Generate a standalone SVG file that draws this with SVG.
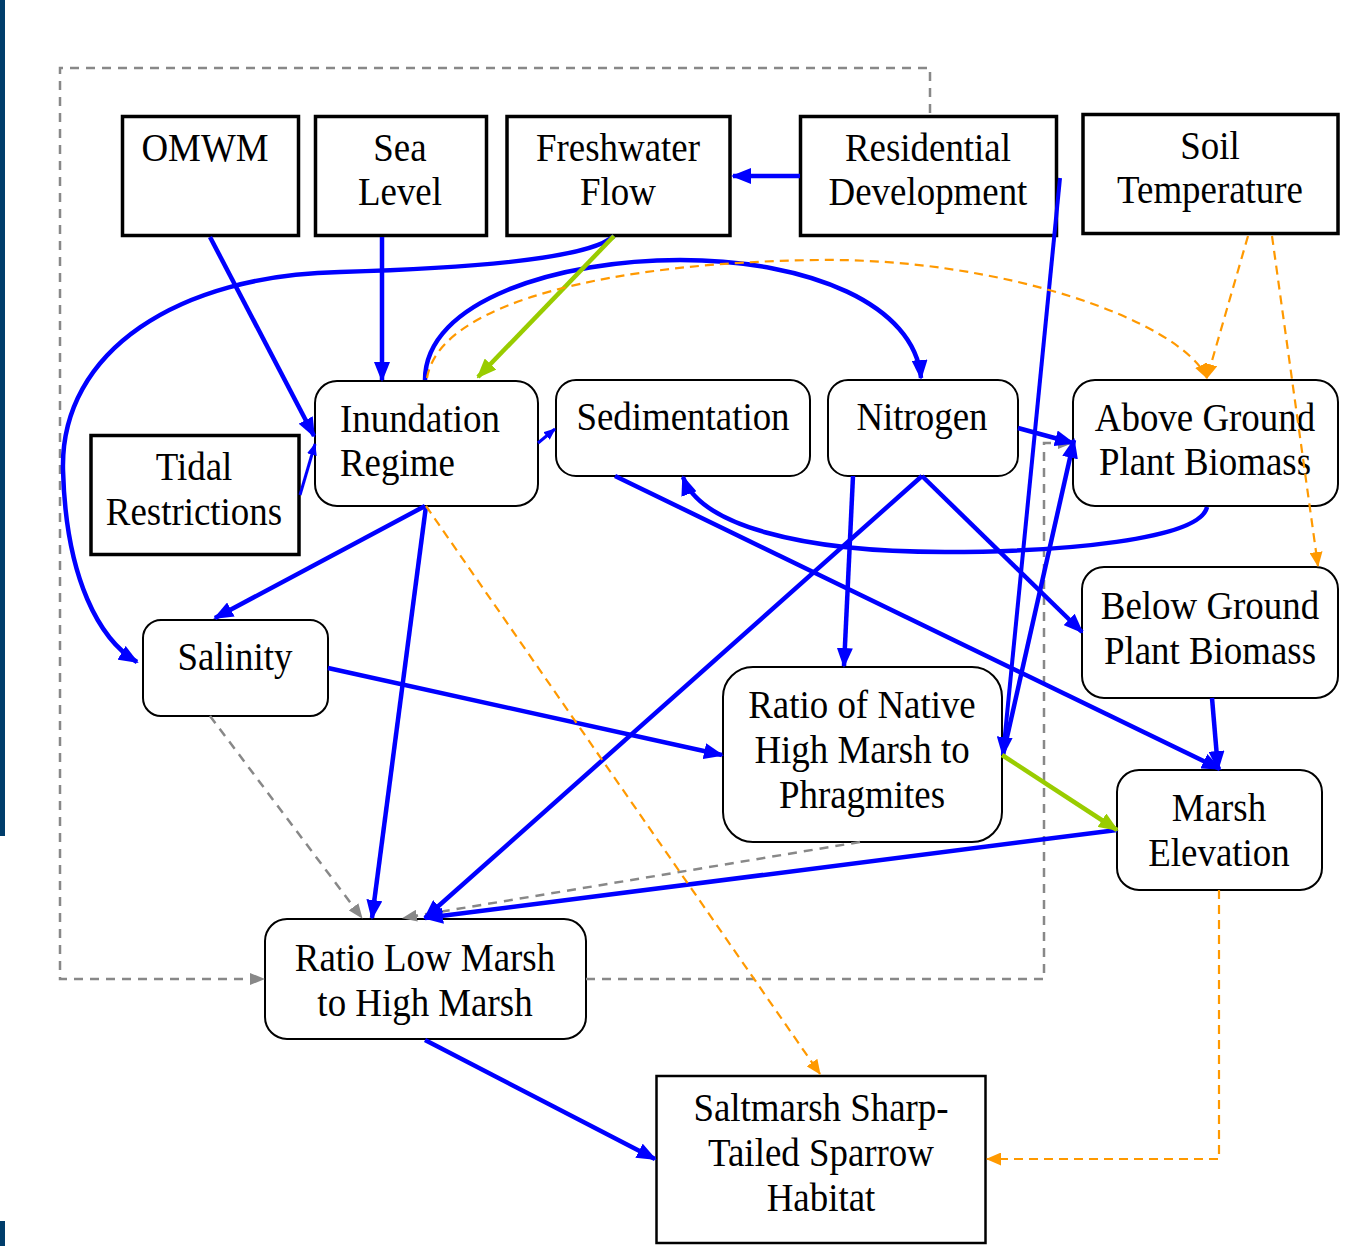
<svg xmlns="http://www.w3.org/2000/svg" width="1346" height="1246" viewBox="0 0 1346 1246">
  <style>
    .lbl { font-family: "Liberation Serif", "Times New Roman", serif; font-size: 41px; fill: #000; text-anchor: middle; }
    .lbl.left { text-anchor: start; }
    .box { fill: #fff; stroke: #000; stroke-width: 3.5; }
    .rbox { fill: #fff; stroke: #000; stroke-width: 2; }
    .pos { fill: none; stroke: #0000ff; stroke-width: 4.5; marker-end: url(#ah-blue); }
    .pos.thin { stroke-width: 3; marker-end: url(#ah-blue-s); }
    .grn { fill: none; stroke: #99cc00; stroke-width: 4.5; marker-end: url(#ah-green); }
    .org { fill: none; stroke: #ff9900; stroke-width: 2.2; stroke-dasharray: 9 6; marker-end: url(#ah-orange); }
    .gry { fill: none; stroke: #888; stroke-width: 2.5; stroke-dasharray: 9 7; marker-end: url(#ah-grey); }
  </style>
  <defs>
    <marker id="ah-blue" markerUnits="userSpaceOnUse" markerWidth="20" markerHeight="16" refX="18" refY="8" orient="auto">
      <path d="M0,0 L20,8 L0,16 z" fill="#0000ff"/>
    </marker>
    <marker id="ah-blue-s" markerUnits="userSpaceOnUse" markerWidth="12" markerHeight="10" refX="11" refY="5" orient="auto">
      <path d="M0,0 L12,5 L0,10 z" fill="#0000ff"/>
    </marker>
    <marker id="ah-green" markerUnits="userSpaceOnUse" markerWidth="20" markerHeight="16" refX="18" refY="8" orient="auto">
      <path d="M0,0 L20,8 L0,16 z" fill="#99cc00"/>
    </marker>
    <marker id="ah-orange" markerUnits="userSpaceOnUse" markerWidth="15" markerHeight="13" refX="14" refY="6.5" orient="auto">
      <path d="M0,0 L15,6.5 L0,13 z" fill="#ff9900"/>
    </marker>
    <marker id="ah-grey" markerUnits="userSpaceOnUse" markerWidth="15" markerHeight="12" refX="14" refY="6" orient="auto">
      <path d="M0,0 L15,6 L0,12 z" fill="#888"/>
    </marker>
  </defs>

  <rect width="1346" height="1246" fill="#fff"/>
  <!-- page edge bars -->
  <rect x="0" y="0" width="5" height="836" fill="#003d6b"/>
  <rect x="0" y="1221" width="5" height="25" fill="#003d6b"/>

  <!-- drivers (square boxes) -->
  <g id="omwm">
    <rect class="box" x="122.5" y="116.5" width="176" height="119"/>
    <text class="lbl" transform="matrix(0.9 0 0 1 20.5 0)"><tspan x="205" y="161">OMWM</tspan></text>
  </g>
  <g id="sea-level">
    <rect class="box" x="315.5" y="116.5" width="171" height="119"/>
    <text class="lbl" transform="matrix(0.9 0 0 1 40 0)"><tspan x="400" y="161">Sea</tspan><tspan x="400" y="205">Level</tspan></text>
  </g>
  <g id="freshwater-flow">
    <rect class="box" x="507" y="116.5" width="223" height="119"/>
    <text class="lbl" transform="matrix(0.9 0 0 1 61.8 0)"><tspan x="618" y="161">Freshwater</tspan><tspan x="618" y="205">Flow</tspan></text>
  </g>
  <g id="residential-development">
    <rect class="box" x="800.5" y="116.5" width="256" height="119"/>
    <text class="lbl" transform="matrix(0.9 0 0 1 92.8 0)"><tspan x="928" y="161">Residential</tspan><tspan x="928" y="205">Development</tspan></text>
  </g>
  <g id="soil-temperature">
    <rect class="box" x="1083" y="114.5" width="255" height="119"/>
    <text class="lbl" transform="matrix(0.9 0 0 1 121 0)"><tspan x="1210" y="159">Soil</tspan><tspan x="1210" y="203">Temperature</tspan></text>
  </g>
  <g id="tidal-restrictions">
    <rect class="box" x="91" y="435.5" width="208" height="119"/>
    <text class="lbl" transform="matrix(0.9 0 0 1 19.4 0)"><tspan x="194" y="480">Tidal</tspan><tspan x="194" y="525">Restrictions</tspan></text>
  </g>
  <g id="sparrow-habitat">
    <rect class="box" x="656.5" y="1076" width="329" height="167" style="stroke-width:2.5"/>
    <text class="lbl" transform="matrix(0.9 0 0 1 82.1 0)"><tspan x="821" y="1121">Saltmarsh Sharp-</tspan><tspan x="821" y="1166">Tailed Sparrow</tspan><tspan x="821" y="1211">Habitat</tspan></text>
  </g>

  <!-- state variables (rounded boxes) -->
  <g id="inundation-regime">
    <rect class="rbox" x="315" y="381" width="223" height="125" rx="22"/>
    <text class="lbl left" transform="matrix(0.9 0 0 1 34 0)"><tspan x="340" y="432">Inundation</tspan><tspan x="340" y="476">Regime</tspan></text>
  </g>
  <g id="sedimentation">
    <rect class="rbox" x="556" y="380" width="254" height="96" rx="20"/>
    <text class="lbl" transform="matrix(0.9 0 0 1 68.3 0)"><tspan x="683" y="430">Sedimentation</tspan></text>
  </g>
  <g id="nitrogen">
    <rect class="rbox" x="828" y="380" width="190" height="96" rx="20"/>
    <text class="lbl" transform="matrix(0.9 0 0 1 92.2 0)"><tspan x="922" y="430">Nitrogen</tspan></text>
  </g>
  <g id="above-ground-biomass">
    <rect class="rbox" x="1073" y="380" width="265" height="126" rx="22"/>
    <text class="lbl" transform="matrix(0.9 0 0 1 120.5 0)"><tspan x="1205" y="431">Above Ground</tspan><tspan x="1205" y="475">Plant Biomass</tspan></text>
  </g>
  <g id="salinity">
    <rect class="rbox" x="143" y="620" width="185" height="96" rx="18"/>
    <text class="lbl" transform="matrix(0.9 0 0 1 23.5 0)"><tspan x="235" y="670">Salinity</tspan></text>
  </g>
  <g id="below-ground-biomass">
    <rect class="rbox" x="1082" y="567" width="256" height="131" rx="22"/>
    <text class="lbl" transform="matrix(0.9 0 0 1 121 0)"><tspan x="1210" y="619">Below Ground</tspan><tspan x="1210" y="664">Plant Biomass</tspan></text>
  </g>
  <g id="native-to-phragmites">
    <rect class="rbox" x="723" y="667" width="279" height="175" rx="30"/>
    <text class="lbl" transform="matrix(0.9 0 0 1 86.2 0)"><tspan x="862" y="718">Ratio of Native</tspan><tspan x="862" y="763">High Marsh to</tspan><tspan x="862" y="808">Phragmites</tspan></text>
  </g>
  <g id="marsh-elevation">
    <rect class="rbox" x="1117" y="770" width="205" height="120" rx="22"/>
    <text class="lbl" transform="matrix(0.9 0 0 1 121.9 0)"><tspan x="1219" y="821">Marsh</tspan><tspan x="1219" y="866">Elevation</tspan></text>
  </g>
  <g id="low-to-high-marsh">
    <rect class="rbox" x="265" y="919" width="321" height="120" rx="22"/>
    <text class="lbl" transform="matrix(0.9 0 0 1 42.5 0)"><tspan x="425" y="971">Ratio Low Marsh</tspan><tspan x="425" y="1016">to High Marsh</tspan></text>
  </g>

  <!-- connectors -->
  <g id="connectors">
    <!-- grey dashed links -->
    <path class="gry" d="M930,113 L930,68 L60,68 L60,979 L264,979"/>
    <path class="gry" d="M586,979 L1044,979 L1044,443 L1072,443"/>
    <path class="gry" d="M210,716 L362,918"/>
    <path class="gry" d="M860,842 L403,918"/>

    <!-- blue links -->
    <path class="pos" d="M800,176 L733,176"/>
    <path class="pos" d="M210,237 L314,436"/>
    <path class="pos" d="M382,237 L382,380"/>
    <path class="pos" d="M614,236 C590,258 480,268 340,272 C180,275 60,350 63,470 C66,580 100,640 137,662"/>
    <path class="pos" d="M425,380 C425,300 560,260 680,260 C810,260 915,305 921,378"/>
    <path class="pos thin" d="M538,443 L555,429"/>
    <path class="pos thin" d="M300,495 L315,444"/>
    <path class="pos" d="M1018,428 L1073,443"/>
    <path class="pos" d="M1060,178 L1003,755" style="stroke-width:4"/>
    <path class="pos" d="M1003,755 L1074,440"/>
    <path class="pos" d="M1207,507 C1200,540 1060,552 945,552 C800,552 700,525 683,477"/>
    <path class="pos" d="M615,476 L1220,769"/>
    <path class="pos" d="M1212,698 L1218,769"/>
    <path class="pos" d="M853,476 L844,666"/>
    <path class="pos" d="M922,476 L1082,632"/>
    <path class="pos" d="M922,476 L425,918"/>
    <path class="pos" d="M425,506 L215,618"/>
    <path class="pos" d="M426,506 L372,918"/>
    <path class="pos" d="M328,668 L722,755"/>
    <path class="pos" d="M1117,830 L425,918"/>
    <path class="pos" d="M425,1040 L655,1159"/>

    <!-- green links -->
    <path class="grn" d="M614,236 L478,377"/>
    <path class="grn" d="M1002,755 L1117,830"/>

    <!-- orange dashed links -->
    <path class="org" d="M427,378 C440,300 620,262 820,260 C1000,258 1180,320 1207,378"/>
    <path class="org" d="M1248,236 L1207,378"/>
    <path class="org" d="M1272,236 L1318,566"/>
    <path class="org" d="M426,506 L820,1074"/>
    <path class="org" d="M1219,890 L1219,1159 L987,1159"/>
  </g>
</svg>
